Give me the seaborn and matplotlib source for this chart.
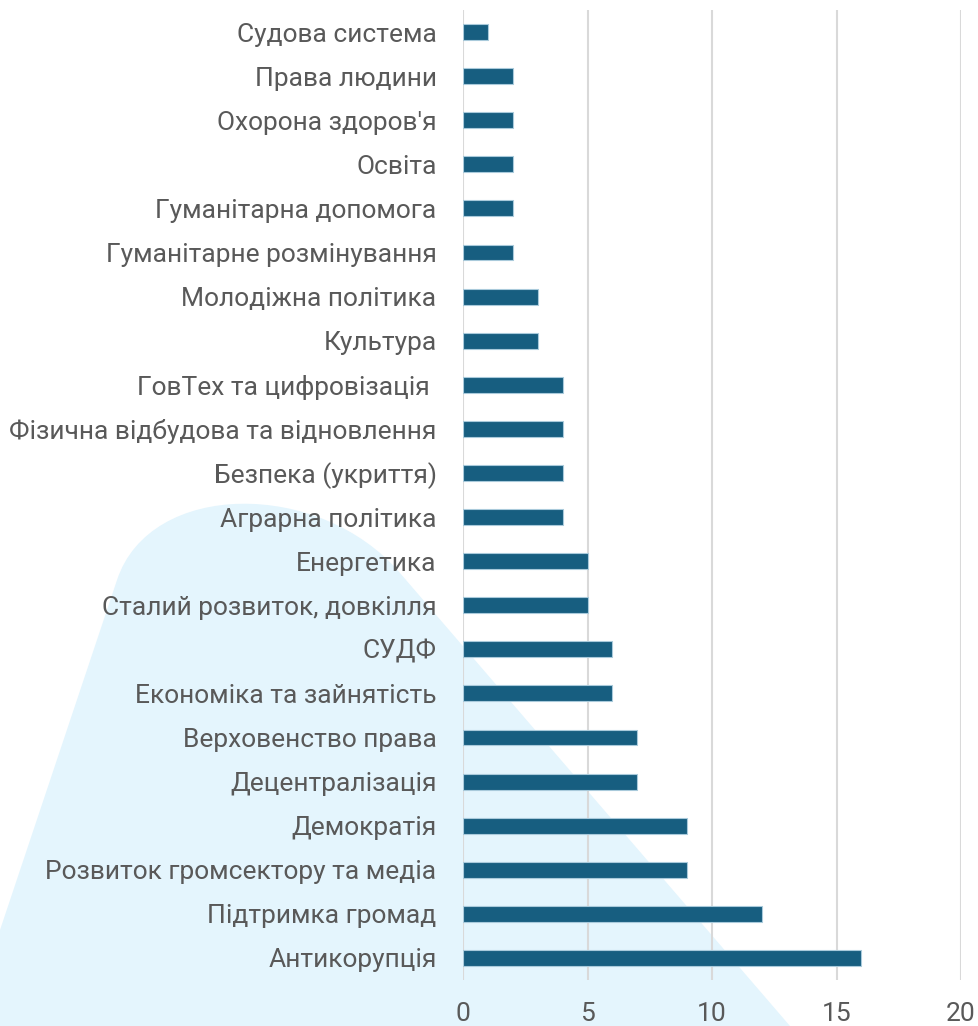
import numpy as np
import pandas as pd
import matplotlib
matplotlib.use("Agg")
import matplotlib.pyplot as plt
import seaborn as sns
from matplotlib.path import Path
from matplotlib.patches import PathPatch

categories = [
    "Судова система",
    "Права людини",
    "Охорона здоров'я",
    "Освіта",
    "Гуманітарна допомога",
    "Гуманітарне розмінування",
    "Молодіжна політика",
    "Культура",
    "ГовТех та цифровізація ",
    "Фізична відбудова та відновлення",
    "Безпека (укриття)",
    "Аграрна політика",
    "Енергетика",
    "Сталий розвиток, довкілля",
    "СУДФ",
    "Економіка та зайнятість",
    "Верховенство права",
    "Децентралізація",
    "Демократія",
    "Розвиток громсектору та медіа",
    "Підтримка громад",
    "Антикорупція",
]
counts = [1, 2, 2, 2, 2, 2, 3, 3, 4, 4, 4, 4, 5, 5, 6, 6, 7, 7, 9, 9, 12, 16]
x_ticks = [0, 5, 10, 15, 20]

df = pd.DataFrame({"Category": categories, "Count": counts})

sns.set_style("white")
plt.rcParams["font.family"] = ["Roboto", "DejaVu Sans"]

W, H = 979, 1026
fig = plt.figure(figsize=(W / 100, H / 100), dpi=100)

# light blue decorative shape behind the chart (pixel coords -> figure fraction)
pts = [(0, 930), (117, 580), (150, 480), (320, 479), (400, 573),
       (790, 1026), (0, 1026), (0, 930)]
codes = [Path.MOVETO, Path.LINETO, Path.CURVE4, Path.CURVE4, Path.CURVE4,
         Path.LINETO, Path.LINETO, Path.CLOSEPOLY]
verts = [(x / W, 1 - y / H) for x, y in pts]
blob = PathPatch(Path(verts, codes), facecolor="#e4f5fd", edgecolor="none",
                 transform=fig.transFigure, zorder=0)
fig.add_artist(blob)

ax = fig.add_axes([463 / W, 1 - 980 / H, (961 - 463) / W, (980 - 10) / H])
ax.set_facecolor("none")
ax.set_zorder(1)

sns.barplot(data=df, x="Count", y="Category", orient="h", color="#175e80",
            saturation=1, width=0.36, edgecolor="#a9cadb", linewidth=0.8, ax=ax)

ax.set_xlim(0, 20)
ax.set_ylim(len(categories) - 0.5, -0.5)
ax.set_xticks(x_ticks)
ax.xaxis.grid(True, color="#d9d9d9", linewidth=1.5)
ax.set_axisbelow(True)
for s in ax.spines.values():
    s.set_visible(False)
ax.tick_params(axis="both", length=0, labelsize=19, labelcolor="#595959")
ax.tick_params(axis="y", pad=19)
ax.tick_params(axis="x", pad=16)
ax.set_xlabel("")
ax.set_ylabel("")

fig.savefig("out.png", dpi=100)
